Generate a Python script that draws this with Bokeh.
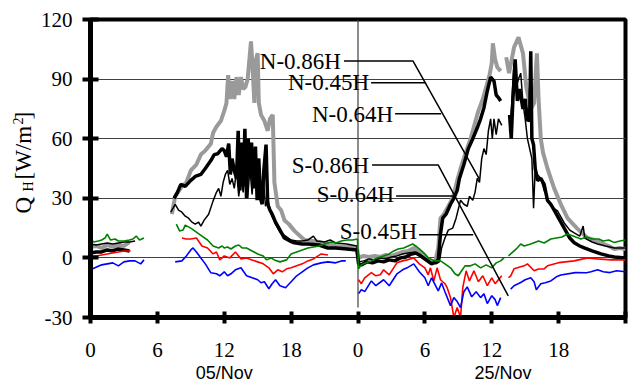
import math
import numpy as np
from bokeh.plotting import figure
from bokeh.layouts import row
from bokeh.models import Label, FixedTicker, LinearAxis
from bokeh.core.properties import value
from bokeh.embed import file_html
from bokeh.resources import INLINE

NaN = float("nan")

# ---------------- data (hours since 00:00 of 05/Nov panel; 24-48 = 25/Nov panel) ----------------
n086_h = [0, 0.5, 1, 1.5, 2, 2.5, 3, 3.5, 3.6,
          7.3, 7.6, 8.2, 8.6, 9.0, 9.5, 9.9, 10.3, 10.8, 11.0, 11.3, 11.7, 12.0, 12.2, 12.35, 12.5, 12.7, 12.9,
          13.1, 13.3, 13.5, 13.7, 13.9, 14.1, 14.4, 14.55, 14.7, 14.85, 15.0, 15.1, 15.3, 15.6, 15.9, 16.1,
          16.35, 16.5, 16.8, 17.1, 17.4, 17.8, 18.3, 18.8, 19.2, 19.8, 20.5, 21.3, 22.0, 22.8, 23.5, 23.9,
          24.05, 24.5, 25, 25.5, 26, 26.5, 27, 27.5, 28, 28.5, 29, 29.5, 30, 30.5, 30.9, 31.2, 31.4, 31.7, 32,
          32.3, 32.6, 32.9, 33.2, 33.6, 34.1, 34.5, 34.8, 35.2, 35.5, 35.8, 36.0, 36.1, 36.3, 36.5, 36.8, 36.9,
          37.3, 37.55, 37.8, 38.0, 38.4, 38.8, 39.1, 39.5, 39.8, 40.05, 40.2, 40.4, 40.6, 41.0, 41.6, 42.2,
          42.8, 43.3, 43.7, 44.2, 44.6, 45.2, 45.8, 46.5, 47.0, 47.5, 48.0]
n086_v = [5.5, 6, 5, 6.5, 5.5, 6.5, 6, 8, NaN,
          22, 31, 36, 38, 44, 47, 52, 54, 57.5, 63, 66, 69, 74, 78, 92, 80, 89, 80,
          91, 82, 91, 85, 86, 90, 109, 95, 78, 100, 103, 78, 72, 69, 64, 70,
          72, 38, 26, 24, 19, 17, 13.6, 11, 9, 8.6, 8, 7, 6, 5.5, 5.5, 5.5,
          0, 1, 0.5, 1, 0.5, 1.5, 1, 2, 3, 3.5, 5, 3.5, 1, -1.5, -2.5, 5, 20, 22, 25,
          28, 32, 39, 45, 52, 60, 68, 74, 80, 86, 92, 98, 108, 100, 96, 94, NaN,
          101, 93, 100, 106, 111, 103, 86, 75, 78, 103, 80, 60, 53, 45, 35, 27,
          20, 17, 14.6, 12, 10, 9, 7.6, 6, 4.5, 5, 4.5]

n045_h = [0, 0.5, 1, 1.5, 2, 2.5, 3, 3.5, 3.6,
          7.5, 7.8, 8.1, 8.5, 9.0, 9.4, 9.9, 10.3, 10.8, 11.1, 11.4, 11.8, 12.0, 12.2, 12.4, 12.55, 12.7, 12.9,
          13.1, 13.25, 13.4, 13.55, 13.7, 13.85, 14.0, 14.15, 14.3, 14.45, 14.6, 14.8, 14.95, 15.1, 15.25,
          15.4, 15.55, 15.75, 15.9, 16.1, 16.3, 16.6, 16.9, 17.4, 17.9, 18.3, 19.0, 19.5, 20.5, 21.3, 22.0,
          23.0, 23.9,
          24.05, 24.3, 24.8, 25.3, 25.8, 26.3, 26.8, 27.3, 27.8, 28.3, 28.8, 29.2, 29.6, 30.1, 30.6, 31.0,
          31.2, 31.4, 31.6, 31.9, 32.3, 32.6, 32.9, 33.1, 33.5, 33.9, 34.3, 34.7, 35.0, 35.3, 35.6, 35.9,
          36.2, 36.4, 36.6, 36.8, 37.0,
          37.6, 37.75, 37.9, 38.1, 38.3, 38.5, 38.8, 39.0, 39.2, 39.4, 39.5, 39.6, 39.75, 39.9, 40.1, 40.4,
          40.7, 41.0, 41.3, 41.6, 42.0, 42.5, 43.0, 43.4, 43.9, 44.3, 45.0, 45.8, 46.5, 47.0, 48.0]
n045_v = [2.5, 3, 3, 4, 3.5, 4.5, 4, 3.5, NaN,
          30, 33, 37, 36, 39, 41, 42, 45, 49, 52, 52.4, 55, 54, 51, 57.5, 42, 50, 44,
          40, 64, 34, 58, 36, 65, 30, 60, 42, 58, 35, 56, 29, 50, 30,
          27, 44, 57, 27, 24, 22, 18, 15, 10, 8.5, 7.6, 7, 7, 6.5, 5, 5,
          4.5, 4,
          -3, -3.5, -2, -2.5, -1.5, -2, -1, -1.5, 0, 0.5, 2, 2.5, 1, -1, -3, -2,
          -1, 12, 20, 22, 27, 30, 34, 40, 47, 55, 60, 65.5, 70, 75.6, 84, 91,
          89, 82, 80.7, 79, NaN,
          72, 60, 80, 100, 79, 85, 75, 80, 69, 70, 104, 60, 57, 45, 39, 40,
          37, 29, 27, 24, 20, 15, 10, 7.6, 6, 5, 3.5, 2, 1, 0.5, 0]

n064_h = [0, 0.5, 1, 1.5, 2, 2.5, 3, 3.5, 4.0, 4.1,
          7.2, 7.6, 7.9, 8.2, 8.5, 8.8, 9.1, 9.4, 9.7, 9.9, 10.2, 10.6, 11.0, 11.3, 11.5, 11.7, 11.9, 12.1,
          12.3, 12.5, 12.7, 12.9, 13.1, 13.3, 13.5, 13.7, 13.9, 14.1, 14.3, 14.5, 14.7, 14.9, 15.1, 15.3,
          15.5, 15.7, 15.9, 16.2, 16.6, 17.0, 17.5, 18.0, 18.5, 19.0, 19.5, 20.0, 20.3, 21.0, 21.5, 22.0,
          23.0, 23.9,
          24.05, 24.5, 25, 25.5, 26, 26.5, 27, 27.5, 28, 28.5, 29, 29.5, 30.0, 30.5, 31.0, 31.3, 31.5, 31.8,
          32.1, 32.5, 32.8, 33.2, 33.5, 33.8, 34.0, 34.3, 34.5, 34.7, 34.9, 35.1, 35.3, 35.5, 35.7, 35.9,
          36.05, 36.2, 36.4, 36.6, 36.9, 37.0,
          37.6, 37.8, 38.0, 38.2, 38.4, 38.6, 38.8, 39.0, 39.2, 39.4, 39.6, 39.75, 39.9, 40.1, 40.4, 40.7,
          41.0, 41.3, 41.9, 42.5, 43.0, 43.4, 43.9, 44.2, 44.35, 45.0, 45.5, 46.2, 47.0, 48.0]
n064_v = [7, 6.5, 7, 7.5, 7, 7.5, 8, 8, 8.5, NaN,
          23, 27, 24, 23, 21, 20, 18, 17, 18, 16, 19, 22, 28.7, 33, 35, 31, 38, 42,
          44, 37, 40, 35, 44, 31, 40, 33, 46, 30, 45, 32, 48, 34, 50, 28,
          40, 26, 30, 22, 17, 13, 11, 9, 8.5, 8.5, 9, 11, 8.5, 8, 9, 7.5,
          7, 6,
          -2, -1.5, -0.5, -1, 0, -0.5, 0.5, 1, 2, 2.5, 3, 2, 0, -2, -3, -2, 5, 10,
          14, 15, 20, 29, 27, 26, 31, 29, 33, 40, 38, 50, 55, 52, 64, 70,
          60, 70, 62, 70, 66.7, NaN,
          64, 78, 98, 86, 90, 93, 78, 70, 60, 55, 50, 25, 45, 42, 40, 34,
          30, 26, 23.7, 17.6, 14, 12.6, 11, 16, 10, 8, 7, 6, 5, 5]

s086_h = [0, 0.3, 0.7, 1.0, 1.3, 1.5, 1.8, 2.2, 2.5, 3.0, 3.5, 3.8, 4.1, 4.4, 4.8, 4.9,
          7.7, 8.0, 8.3, 8.5, 9.0, 9.5, 10.0, 10.5, 11.0, 11.5, 11.8, 12.0, 12.3, 12.6, 13.0, 13.3, 13.6,
          14.0, 14.5, 15.0, 15.5, 15.8, 16.2, 16.5, 17.0, 17.3, 17.6, 18.0, 18.5, 19.0, 19.5, 20.0, 20.5,
          21.0, 21.6, 22.0, 22.5, 23.0, 23.5, 23.95,
          24.05, 24.3, 24.7, 25.2, 25.7, 26.3, 26.8, 27.2, 27.6, 28.1, 28.5, 28.9, 29.3, 29.6, 30.0, 30.3,
          30.9, 31.4, 31.8, 32.3, 32.7, 33.0, 33.3, 33.6, 34.1, 34.5, 35.0, 35.5, 36.0, 36.4, 36.8, 37.1, 37.3,
          37.5, 37.7, 38.2, 38.6, 38.9, 39.5, 40.2, 40.7, 41.3, 41.8, 42.3, 42.8, 43.3, 44.0, 44.5, 45.0,
          45.6, 46.0, 46.5, 47.0, 47.5, 48.0]
s086_v = [9.5, 8, 8.5, 9, 10, 12, 9, 9.5, 8.5, 8.5, 9, 9.5, 11, 9, 10, NaN,
          17, 13.5, 14, 16.5, 15, 13, 11, 9, 6, 5, 6, 5, 5.5, 4.5, 6, 6.5, 5,
          5, 3.5, 2, 1, -1, 0, -1, -2, -1.5, -1, 2, 3, 4, 5, 5.5, 6,
          7, 8, 7.5, 8.5, 9, 9, 9.5,
          -5.5, -3.5, -2.5, -1.5, 0, 1, 2, 3.5, 4.5, 5, 6, 7, 5.5, 4, 2, 0,
          -1.5, -1.5, -3, -5, -8, -9, -6.5, -4, -4, -3, -5, -3.5, -5, -2.5, -1.5, 0, NaN,
          1, 2, 4.5, 7, 6, 7, 8.5, 7.5, 9.5, 10, 10.5, 12, 11, 9.5, 10.5, 9.5,
          9.5, 8.5, 9, 7.7, 8.5, 9]

s064_h = [0, 0.5, 1.0, 1.5, 2.0, 2.5, 3.0, 3.6, 3.7,
          8.2, 8.6, 9.0, 9.5, 10.0, 10.5, 11.0, 11.3, 11.6, 12.0, 12.5, 13.0, 13.5, 14.0, 14.5, 15.0, 15.5,
          16.0, 16.4, 16.8, 17.2, 17.6, 18.0, 18.5, 19.0, 19.5, 20.0, 20.7, 21.3, 21.4,
          24.05, 24.3, 24.6, 25.2, 25.6, 26.0, 26.3, 26.8, 27.5, 28.0, 28.4, 29.0, 29.5, 30.0, 30.3, 30.5,
          30.8, 31.1, 31.4, 31.8, 32.0, 32.3, 32.6, 32.9, 33.2, 33.4, 33.7, 34.0, 34.4, 34.8, 35.2, 35.6,
          36.0, 36.3, 36.6, 36.9, 37.1,
          37.5, 37.7, 38.0, 38.3, 38.9, 39.2, 39.8, 40.2, 40.7, 41.0, 42.0, 43.4, 44.6, 45.5, 46.7, 48.0]
s064_v = [0.7, 1, 1.5, 2, 2.5, 3, 3.5, 3.5, NaN,
          10, 9.5, 9.5, 10, 6, 5, 2, 3, -1, 1, 0, 3, -0.5, 0, -1, -2, -3,
          -5, -8, -6, -7, -5.5, -5, -4, -3, -1.5, -0.5, 2, 1.5, NaN,
          -11, -13, -10, -7.4, -9, -8.5, -6, -8.5, -2.4, -1.5, -1, 0, -3, -5, -8.5, -5,
          -11.6, -5, -11, -13, -15, -20, -30, -25, -30, -15, -6.5, -11.6, -6.5, -12, -9, -14,
          -10, -13, -11, -9, NaN,
          -10, -9, -5.5, -5, -4, -3, -6.5, -5.6, -5.5, -4, -2.4, -1.5, 0, -0.5, -1, -1]

s045_h = [0, 0.4, 1.0, 1.5, 2.0, 2.5, 3.0, 3.5, 4.0, 4.5, 4.8, 4.9,
          7.6, 8.2, 8.6, 9.0, 9.2, 9.5, 9.9, 10.3, 10.8, 11.3, 11.6, 12.0, 12.3, 12.6, 13.0, 13.5, 14.0,
          14.5, 15.0, 15.3, 15.6, 16.0, 16.3, 16.6, 17.0, 17.5, 18.0, 18.5, 19.0, 19.5, 20.0, 20.7, 21.3,
          22.0, 22.5, 22.9, 23.0,
          24.05, 24.3, 24.6, 25.2, 25.6, 26.3, 26.8, 27.5, 28.0, 28.4, 29.0, 29.5, 30.0, 30.3, 30.6, 31.2,
          31.5, 31.8, 32.3, 32.6, 32.9, 33.2, 33.5, 33.8, 34.2, 34.6, 35.0, 35.3, 35.6, 36.0, 36.3, 36.5,
          36.8, 37.0,
          37.7, 38.0, 38.6, 39.0, 39.5, 39.8, 40.0, 40.4, 40.8, 41.3, 41.8, 42.2, 43.5, 44.5, 44.9, 45.5,
          46.0, 46.6, 47.2, 48.0]
s045_v = [-6, -5, -3.5, -3, -2.5, -4, -2, -1.5, -1.5, -3, -1, NaN,
          -2, -1.5, 1, 4, 5, 3, 0, -3, -7.5, -8, -9, -7, -9, -8, -6, -5, -9,
          -10, -11, -12.5, -12, -15.5, -13, -11, -14, -15, -12, -9, -7, -5, -3.5, -2.5, -2,
          -2.5, -1.5, -1.5, NaN,
          -18, -16, -17, -11.6, -14, -11, -14, -8, -6, -5, -3, -7, -10, -14, -10, -16.6,
          -12.6, -17, -24, -20, -22, -25, -17, -14.6, -19.6, -17, -20, -18, -23, -19, -21, -24,
          -20, NaN,
          -15.7, -14, -12.4, -11, -10, -12, -16, -13, -12.5, -11.6, -9.5, -8.6, -7.4, -7.5, -7, -6,
          -7, -7.4, -6.5, -7]

y_ticks = [-30, 0, 30, 60, 90, 120]
y_tick_labels = ["-30", "0", "30", "60", "90", "120"]
x_ticks = [0, 6, 12, 18, 24, 30, 36, 42, 48]
x_tick_labels = ["0", "6", "12", "18", "0", "6", "12", "18", ""]
day_ticks = [12, 37]
day_labels = ["05/Nov", "25/Nov"]
series_names = ["N-0.86H", "N-0.45H", "N-0.64H", "S-0.86H", "S-0.64H", "S-0.45H"]

serif = "Liberation Serif"

W, H = 633, 385
TOP, BOTTOM = 19, 68          # frame margins shared by both panels
LW = 36                       # width of the y-title panel

# ---------------- y-axis title panel:  Q_H [W/m^2] ----------------
lab = figure(width=LW, height=H, x_range=(0, LW), y_range=(BOTTOM, H - TOP),
             x_axis_type=None, y_axis_type=None, output_backend="svg", toolbar_location=None,
             min_border_left=0, min_border_right=0, min_border_top=TOP, min_border_bottom=BOTTOM,
             outline_line_color=None)
lab.title = None
lab.background_fill_color = "white"
lab.border_fill_color = "white"
title_parts = ["Q", "H", "[W/m", "2", "]"]
title_sizes = ["23px", "14px", "23px", "14px", "23px"]
title_cx = [22.6, 27.6, 22.6, 17.3, 22.6]        # centre x of each piece (px from left)
title_cy = [204.7, 186.0, 152.2, 120.5, 115.2]   # centre y of each piece (px from top)
for t, fs, cx, cy in zip(title_parts, title_sizes, title_cx, title_cy):
    lab.text(x=[cx], y=[H - cy], text=[t], angle=math.pi / 2, text_font=value(serif),
             text_font_size=fs, text_align="center", text_baseline="middle", text_color="black")

# ---------------- main figure ----------------
p = figure(width=W - LW, height=H, x_range=(0, 48), y_range=(-30, 120),
           output_backend="svg", toolbar_location=None,
           min_border_left=90 - LW, min_border_right=8, min_border_top=TOP, min_border_bottom=BOTTOM)
p.background_fill_color = "white"
p.border_fill_color = "white"
p.outline_line_color = "black"
p.outline_line_width = 4

p.xgrid.visible = False
p.ygrid.ticker = FixedTicker(ticks=y_ticks)
p.ygrid.grid_line_color = "#404040"
p.ygrid.grid_line_width = 1

for ax in p.yaxis:
    ax.ticker = FixedTicker(ticks=y_ticks)
    ax.major_label_overrides = {t: l for t, l in zip(y_ticks, y_tick_labels)}
    ax.major_label_text_font = serif
    ax.major_label_text_font_size = "21px"
    ax.major_label_text_color = "black"
    ax.axis_line_width = 5
    ax.major_tick_line_width = 4
    ax.major_tick_in = 8
    ax.major_tick_out = 8
    ax.minor_tick_line_color = None
    ax.major_label_standoff = 10
for ax in p.xaxis:
    ax.ticker = FixedTicker(ticks=x_ticks)
    ax.major_label_overrides = {t: l for t, l in zip(x_ticks, x_tick_labels)}
    ax.major_label_text_font = serif
    ax.major_label_text_font_size = "21px"
    ax.major_label_text_color = "black"
    ax.axis_line_width = 5
    ax.major_tick_line_width = 4
    ax.major_tick_in = 6
    ax.major_tick_out = 6
    ax.minor_tick_line_color = None
    ax.major_label_standoff = 19

day_axis = LinearAxis(ticker=FixedTicker(ticks=day_ticks),
                      major_label_overrides={t: l for t, l in zip(day_ticks, day_labels)},
                      axis_line_color=None, major_tick_line_color=None, minor_tick_line_color=None,
                      major_tick_in=0, major_tick_out=0,
                      major_label_text_font="Liberation Sans", major_label_text_font_size="18px",
                      major_label_text_color="black", major_label_standoff=3)
p.add_layout(day_axis, "below")

# divider between the two days
p.line([24, 24], [-25, 120], line_color="#404040", line_width=1.2)


def arr(v):
    return np.array(v, dtype=float)


p.line(arr(n086_h), arr(n086_v), line_color="#9a9a9a", line_width=4)
p.line(arr(n045_h), arr(n045_v), line_color="black", line_width=3.5)
p.line(arr(n064_h), arr(n064_v), line_color="black", line_width=1.5)
p.line(arr(s086_h), arr(s086_v), line_color="#008000", line_width=1.6)
p.line(arr(s064_h), arr(s064_v), line_color="#ff0000", line_width=1.6)
p.line(arr(s045_h), arr(s045_v), line_color="#0000ff", line_width=1.6)

# ---------------- series labels with leader lines ----------------
label_x = [22.47, 24.99, 27.15, 24.99, 27.24, 29.30]
label_y = [99.1, 88.1, 72.0, 46.3, 31.7, 13.1]
leaders = [
    ([22.74, 28.94, 34.88], [99.1, 99.1, 39.8]),
    ([25.17, 30.11], [88.1, 88.1]),
    ([27.33, 31.46], [72.5, 72.5]),
    ([25.26, 31.19, 37.48], [46.8, 46.8, -19.1]),
    ([27.42, 32.54], [31.2, 31.2]),
    ([29.48, 34.34], [11.6, 11.6]),
]
for (lx, ly) in leaders:
    p.line(lx, ly, line_color="black", line_width=1.5)
for name, x, y in zip(series_names, label_x, label_y):
    p.add_layout(Label(x=x, y=y, text=name, text_font=serif, text_font_size="23px",
                       text_align="right", text_baseline="middle", text_color="black"))

open("out.html", "w").write(file_html(row(lab, p), INLINE))
